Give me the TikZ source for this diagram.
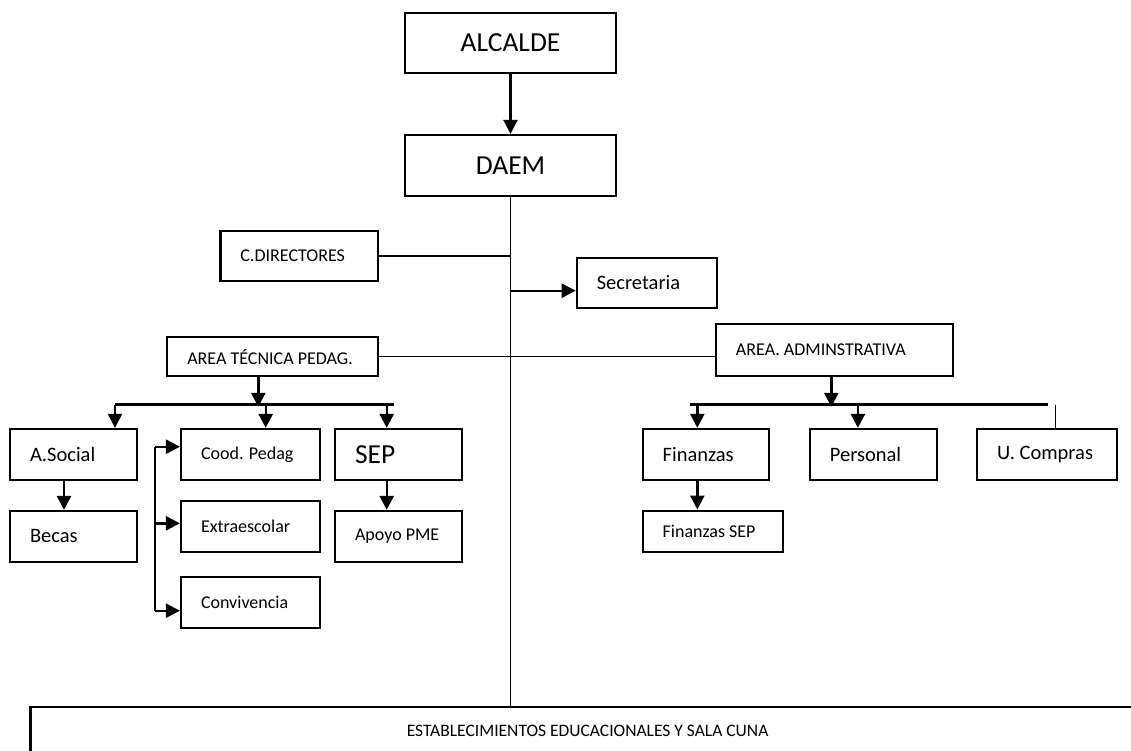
\documentclass[tikz,border=0pt]{standalone}
\usepackage{fontspec}
\setmainfont{Carlito}
\usetikzlibrary{calc,arrows.meta}
\tikzset{
      caja/.style={draw, line width=2.2pt, inner sep=0pt, minimum height=50.7pt},  % plain box
      izq/.style={align=flush left, inner xsep=20pt, text width=#1},             % text set to the left
      grande/.style={font=\fontsize{27.5}{30}\selectfont},
      medio/.style={font=\fontsize{20.5}{23}\selectfont},
      chico/.style={font=\fontsize{18}{21}\selectfont},
      flecha/.style={line width=2.4pt, -{Triangle[length=14pt,width=14pt]}},     % connector with head
      rama/.style={line width=2.2pt},                                           % branch bar
      linea/.style={line width=1.5pt}                                           % thin connector
}
\begin{document}
\begin{tikzpicture}[x=1pt, y=-1pt]
                  \useasboundingbox (0,0) rectangle (1131,751);
                  % top of the chart
                  \node[caja, grande, minimum width=211pt, minimum height=60pt] (alcalde) at (510.5,43) {ALCALDE};
                  \node[caja, grande, minimum width=211pt, minimum height=61pt] (daem) at (510.5,165.5) {DAEM};
                  \node[caja, chico, izq=117.6pt] (cdir) at (299.2,256) {C.DIRECTORES};
                  \node[caja, medio, izq=100pt] (secre) at (646.8,283) {Secretaria};
                  \node[caja, chico, izq=171pt, minimum height=39.3pt] (atp) at (272.8,356.7) {AREA TÉCNICA PEDAG.};
                  \node[caja, chico, izq=196.7pt, minimum height=52.3pt] (adm) at (834.3,350.2) {AREA. ADMINSTRATIVA};
                  % left branch
                  \node[caja, medio, izq=87pt] (asocial) at (73.5,454.3) {A.Social};
                  \node[caja, medio, izq=87pt] (becas) at (73.5,536.3) {Becas};
                  \node[caja, chico, izq=99pt] (cood) at (250.5,454.3) {Cood. Pedag};
                  \node[caja, chico, izq=99pt] (extra) at (250.5,526.7) {Extraescolar};
                  \node[caja, chico, izq=99pt] (convi) at (250.5,602.3) {Convivencia};
                  \node[caja, grande, izq=87.3pt] (sep) at (398.7,454.3) {SEP};
                  \node[caja, chico, izq=87.3pt] (apoyo) at (398.7,536.3) {Apoyo PME};
                  % right branch
                  \node[caja, medio, izq=86.7pt] (finanzas) at (706,454.3) {Finanzas};
                  \node[caja, medio, izq=87.1pt] (personal) at (873.4,454.3) {Personal};
                  \node[caja, medio, izq=100pt] (compras) at (1047,454.3) {U. Compras};
                  \node[caja, chico, izq=100.2pt, minimum height=41.3pt] (finsep) at (712.8,531.3) {Finanzas SEP};
                  % schools at the bottom
                  \node[caja, font=\fontsize{17.5}{20}\selectfont, minimum width=1114.4pt, minimum height=48.6pt, anchor=north west] (estab) at (29.3,705.7) {ESTABLECIMIENTOS EDUCACIONALES Y SALA CUNA};

                  % connectors
                  \draw[flecha] (alcalde) -- (daem);
                  \draw[line width=1.7pt] (daem.south) -- (daem.south |- estab.north);
                  \draw[linea] (cdir.east) -- (cdir.east -| daem.south);
                  \coordinate (s) at ($(secre.west)+(0,7.7)$);
                  \draw[flecha] (s -| daem.south) -- (s);
                  \draw[linea] (atp.east) -- (atp.east -| adm.west);
                  \draw[flecha] ($(atp.south)+(-14.5,0)$) -- ($(atp.south)+(-14.5,29.4)$);
                  \draw[flecha] ($(adm.south)+(-3,0)$) -- ($(adm.south)+(-3,29.4)$);
                  \draw[rama] ($(asocial.north)+(41.5,-23.3)$) -- ($(sep.north)+(-4.7,-23.3)$);
                  \draw[rama] ($(finanzas.north)+(-16,-23.3)$) -- ($(compras.north)+(1,-23.3)$);
                  \foreach \n/\d in {asocial/41.5, cood/15.2, sep/-12, finanzas/-8.7, personal/-15.5}
                        \draw[flecha] ($(\n.north)+(\d,-23.3)$) -- ($(\n.north)+(\d,0)$);
                  \draw[linea] ($(compras.north)+(8.3,-23)$) -- ($(compras.north)+(8.3,0)$);
                  \draw[flecha] ($(asocial.south)+(-9.5,0)$) -- ($(becas.north)+(-9.5,0)$);
                  \draw[flecha] ($(sep.south)+(-12,0)$) -- ($(apoyo.north)+(-12,0)$);
                  \draw[flecha] ($(finanzas.south)+(-8.7,0)$) -- ($(finsep.north)+(-15.5,0)$);
                  % bracket to the three boxes
                  \draw[rama] ($(cood.west)+(-25,-7.6)$) -- ($(convi.west)+(-25,8.4)$);
                  \foreach \n/\d in {cood/-7.6, extra/-3.4, convi/8.4}
                        \draw[flecha] ($(\n.west)+(-25,\d)$) -- ($(\n.west)+(0,\d)$);
\end{tikzpicture}
\end{document}
